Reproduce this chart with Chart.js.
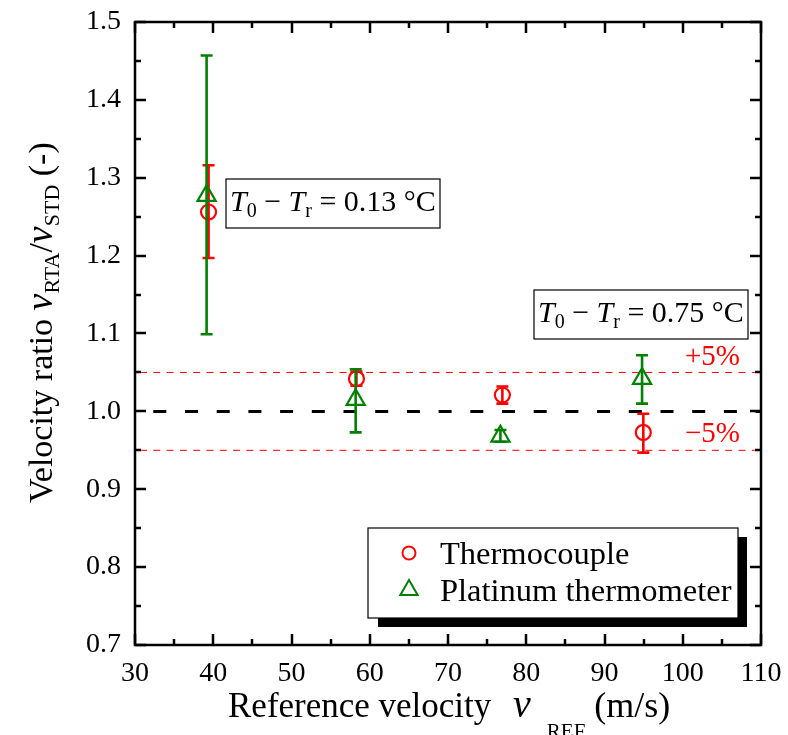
<!DOCTYPE html>
<html>
<head>
<meta charset="utf-8">
<script src="https://cdn.jsdelivr.net/npm/chart.js@4.4.1/dist/chart.umd.min.js"></script>
<style>
  html, body { margin: 0; padding: 0; background: #fff; }
  #wrap { width: 788px; height: 735px; }
</style>
</head>
<body>
<div id="wrap"><canvas id="chart" width="788" height="735"></canvas></div>
<script>
// values
const seriesNames = ['Thermocouple', 'Platinum thermometer'];
const thermoX  = [39.4, 58.3, 76.95, 94.96];
const thermoY  = [1.256, 1.042, 1.021, 0.973];
const thermoLo = [1.197, 1.033, 1.010, 0.947];
const thermoHi = [1.316, 1.051, 1.032, 0.997];
const platX  = [39.15, 58.2, 76.7, 94.8];
const platY  = [1.277, 1.015, 0.968, 1.042];
const platLo = [1.099, 0.973, 0.961, 1.010];
const platHi = [1.457, 1.054, 0.976, 1.072];
const refLines = [1.0, 1.05, 0.95];
const xRange = [30, 110];
const yRange = [0.7, 1.5];

const SERIF = '"Liberation Serif", "Times New Roman", serif';
const RED = '#ff0000';
const GREEN = '#008000';

function pts(xs, ys) {
    return xs.map((x, i) => ({ x: x, y: ys[i] }));
}

// draws text made of pieces: n = normal, i = italic, s = subscript, g = gap
function richText(ctx, x, y, parts, size, subDrop) {
    let cx = x;
    const drop = subDrop == null ? size * 0.2 : subDrop;
    for (const [t, st, fsz] of parts) {
        if (st === 'g') { cx += t; continue; }
        const sub = st === 's';
        const fs = fsz || (sub ? Math.round(size * 0.66) : size);
        ctx.font = (st === 'i' ? 'italic ' : '') + fs + 'px ' + SERIF;
        ctx.fillText(t, cx, y + (sub ? drop : 0));
        cx += ctx.measureText(t).width;
    }
    return cx - x;
}

const errorBars = {
    id: 'errorBars',
    beforeDatasetDraw(chart, args) {
        const ds = chart.data.datasets[args.index];
        const { ctx } = chart;
        const xs = chart.scales.x, ys = chart.scales.y;
        ctx.save();
        ctx.strokeStyle = ds.borderColor;
        ctx.lineWidth = 2.6;
        ds.data.forEach((p, i) => {
            const px = xs.getPixelForValue(p.x);
            const lo = ys.getPixelForValue(ds.errLo[i]);
            const hi = ys.getPixelForValue(ds.errHi[i]);
            ctx.beginPath();
            ctx.moveTo(px, lo); ctx.lineTo(px, hi);
            ctx.moveTo(px - 6, lo); ctx.lineTo(px + 6, lo);
            ctx.moveTo(px - 6, hi); ctx.lineTo(px + 6, hi);
            ctx.stroke();
        });
        ctx.restore();
    }
};

const decor = {
    id: 'decor',
    beforeDatasetsDraw(chart) {
        const { ctx, chartArea: a } = chart;
        const ys = chart.scales.y;
        ctx.save();
        refLines.forEach((v, i) => {
            const py = ys.getPixelForValue(v);
            ctx.beginPath();
            if (i === 0) {
                ctx.strokeStyle = '#000';
                ctx.lineWidth = 3;
                ctx.setLineDash([13, 18.7]);
                ctx.lineDashOffset = -18.3;
            } else {
                ctx.strokeStyle = RED;
                ctx.lineWidth = 1;
                ctx.setLineDash([7, 6.3]);
                ctx.lineDashOffset = -5;
            }
            ctx.moveTo(a.left, py);
            ctx.lineTo(a.right, py);
            ctx.stroke();
        });
        ctx.setLineDash([]);
        ctx.fillStyle = RED;
        ctx.font = '29px ' + SERIF;
        ctx.fillText('+5%', a.left + 550, ys.getPixelForValue(1.05) - 7);
        ctx.fillText('\u22125%', a.left + 550, ys.getPixelForValue(0.95) - 8);
        ctx.restore();
    },
    afterDatasetsDraw(chart) {
        const { ctx, chartArea: a } = chart;
        ctx.save();
        // annotation boxes
        const boxes = [
            { l: a.left + 91, t: a.top + 157, w: 214, h: 49, val: '0.13' },
            { l: a.left + 399, t: a.top + 268, w: 214, h: 49, val: '0.75' }
        ];
        boxes.forEach(b => {
            ctx.fillStyle = '#fff';
            ctx.fillRect(b.l, b.t, b.w, b.h);
            ctx.strokeStyle = '#000';
            ctx.lineWidth = 1.2;
            ctx.strokeRect(b.l, b.t, b.w, b.h);
            ctx.fillStyle = '#000';
            ctx.textBaseline = 'alphabetic';
            richText(ctx, b.l + 4, b.t + 32, [
                ['T', 'i'], ['0', 's'], [' \u2212 ', 'n'], ['T', 'i'], ['r', 's'],
                [' = ' + b.val + ' \u00b0C', 'n']
            ], 30);
        });

        // legend with drop shadow
        const L = { l: a.left + 233, t: a.top + 506, w: 370, h: 90 };
        ctx.fillStyle = '#000';
        ctx.fillRect(L.l + 10, L.t + 9, L.w - 1, L.h);
        ctx.fillStyle = '#fff';
        ctx.fillRect(L.l, L.t, L.w, L.h);
        ctx.strokeStyle = '#000';
        ctx.lineWidth = 1.2;
        ctx.strokeRect(L.l, L.t, L.w, L.h);
        chart.data.datasets.forEach((ds, i) => {
            const cy = L.t + 25 + i * 37;
            ctx.strokeStyle = ds.borderColor;
            ctx.lineWidth = 2;
            ctx.beginPath();
            if (ds.pointStyle === 'circle') {
                ctx.arc(L.l + 41, cy, 6.5, 0, Math.PI * 2);
            } else {
                const r = 10;
                ctx.moveTo(L.l + 41, cy - r);
                ctx.lineTo(L.l + 41 + r * 0.866, cy + r / 2);
                ctx.lineTo(L.l + 41 - r * 0.866, cy + r / 2);
                ctx.closePath();
            }
            ctx.stroke();
            ctx.fillStyle = '#000';
            ctx.font = '32.5px ' + SERIF;
            ctx.textBaseline = 'alphabetic';
            ctx.fillText(ds.label, L.l + 72, cy + 11);
        });
        ctx.restore();
    },
    afterDraw(chart) {
        const { ctx, chartArea: a } = chart;
        const xs = chart.scales.x, ys = chart.scales.y;
        ctx.save();
        ctx.strokeStyle = '#000';
        ctx.lineWidth = 2.5;
        ctx.beginPath();
        // ticks pointing inward on all four sides
        for (let v = xRange[0]; v <= xRange[1] + 1e-9; v += 5) {
            const px = Math.round(xs.getPixelForValue(v));
            const len = (Math.round(v) % 10 === 0) ? 11 : 6;
            ctx.moveTo(px, a.bottom); ctx.lineTo(px, a.bottom - len);
            ctx.moveTo(px, a.top); ctx.lineTo(px, a.top + len);
        }
        for (let k = 0; k <= 16; k++) {
            const v = yRange[0] + k * 0.05;
            const py = Math.round(ys.getPixelForValue(v));
            const len = (k % 2 === 0) ? 11 : 6;
            ctx.moveTo(a.left, py); ctx.lineTo(a.left + len, py);
            ctx.moveTo(a.right, py); ctx.lineTo(a.right - len, py);
        }
        ctx.stroke();
        ctx.strokeRect(a.left, a.top, a.right - a.left, a.bottom - a.top);

        // axis titles with italic symbols and subscripts
        ctx.fillStyle = '#000';
        ctx.textBaseline = 'alphabetic';
        richText(ctx, 228, 717, [
            ['Reference velocity ', 'n'], [13, 'g'], ['v', 'i', 40], [16, 'g'], ['REF', 's', 21],
            [' (m/s)', 'n', 36]
        ], 35, 21);
        ctx.translate(52, 503);
        ctx.rotate(-Math.PI / 2);
        richText(ctx, 0, 0, [
            ['Velocity ratio ', 'n'], ['v', 'i', 38], ['RTA', 's'], ['/', 'n'],
            ['v', 'i', 38], ['STD', 's'], [' (-)', 'n']
        ], 34, 7);
        ctx.restore();
    }
};

new Chart(document.getElementById('chart'), {
    type: 'scatter',
    data: {
        datasets: [
            {
                label: seriesNames[0],
                data: pts(thermoX, thermoY),
                errLo: thermoLo, errHi: thermoHi,
                pointStyle: 'circle',
                pointRadius: 7.5,
                pointHoverRadius: 7.5,
                borderColor: RED,
                backgroundColor: 'rgba(0,0,0,0)',
                borderWidth: 2.2,
                order: 1
            },
            {
                label: seriesNames[1],
                data: pts(platX, platY),
                errLo: platLo, errHi: platHi,
                pointStyle: 'triangle',
                pointRadius: 10.5,
                pointHoverRadius: 10.5,
                borderColor: GREEN,
                backgroundColor: 'rgba(0,0,0,0)',
                borderWidth: 2.2,
                order: 0
            }
        ]
    },
    options: {
        responsive: false,
        animation: false,
        devicePixelRatio: 1,
        layout: { padding: { top: 22, right: 27, left: 0, bottom: 0 } },
        plugins: {
            legend: { display: false },
            tooltip: { enabled: false }
        },
        scales: {
            x: {
                type: 'linear',
                min: xRange[0], max: xRange[1],
                afterFit: s => { s.height = 90; s.paddingLeft = 0; s.paddingRight = 0; },
                grid: { display: false, drawTicks: false },
                border: { display: false },
                ticks: {
                    stepSize: 10,
                    padding: 12,
                    color: '#000',
                    font: { family: SERIF, size: 28 }
                }
            },
            y: {
                type: 'linear',
                min: yRange[0], max: yRange[1],
                afterFit: s => { s.width = 135; s.paddingTop = 0; s.paddingBottom = 0; },
                grid: { display: false, drawTicks: false },
                border: { display: false },
                ticks: {
                    stepSize: 0.1,
                    padding: 14,
                    color: '#000',
                    font: { family: SERIF, size: 28 },
                    callback: v => Number(v).toFixed(1)
                }
            }
        }
    },
    plugins: [errorBars, decor]
});
</script>
</body>
</html>
